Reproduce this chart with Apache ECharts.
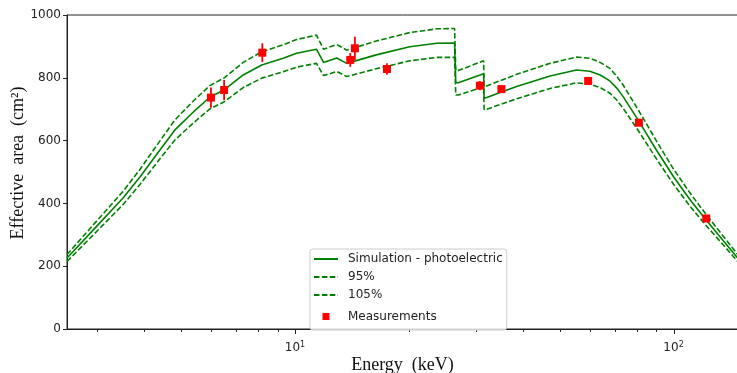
<!DOCTYPE html>
<html>
<head>
<meta charset="utf-8">
<script src="https://cdn.jsdelivr.net/npm/echarts@6/dist/echarts.min.js"></script>
<style>
  html, body { margin: 0; padding: 0; background: #fff; }
  #chart { width: 737px; height: 373px; }
</style>
</head>
<body>
<div id="chart"></div>
<script>
// Photon energy grid (keV) for the simulated curves
const energy = [2.5, 2.93, 3.52, 3.9, 4.4, 4.82, 5.4, 5.96, 6.49, 7.3, 8.17, 9.31, 10.1, 11.4, 11.5, 11.9, 12.9, 13.7, 16.4, 20.1, 23.7, 26.4, 26.6, 27.0, 31.5, 31.6, 32.1, 38.5, 47.2, 55.4, 60.1, 64.0, 67.9, 70.7, 73.6, 80.6, 90.1, 100, 110.7, 121, 135, 148];
// Simulated effective area, photoelectric (cm²)
const simulation = [226, 315, 418, 485, 570, 634, 692, 738, 761, 809, 841, 862, 878, 891, 894, 849, 863, 846, 873, 899, 910, 911, 784, 784, 813, 735, 737, 772, 806, 825, 821, 809, 790, 768, 740, 666, 570, 485, 411, 352, 283, 225];
// Lower band (95 %)
const band95 = [215, 299, 397, 461, 542, 602, 657, 701, 723, 769, 799, 819, 834, 846, 849, 807, 820, 804, 829, 854, 865, 865, 745, 745, 772, 698, 700, 733, 766, 784, 780, 769, 751, 730, 703, 633, 542, 461, 390, 334, 269, 214];
// Upper band (105 %)
const band105 = [237, 331, 439, 509, 599, 666, 727, 775, 799, 849, 883, 905, 922, 936, 939, 891, 906, 888, 917, 944, 956, 957, 823, 823, 854, 772, 774, 811, 846, 866, 862, 849, 830, 806, 777, 699, 599, 509, 432, 370, 297, 236];

// Measured points: energy (keV), effective area (cm²), 1-sigma error
const measEnergy = [6.0, 6.5, 8.2, 14.0, 14.4, 17.5, 30.8, 35.1, 59.5, 81, 122];
const measArea = [737, 761, 880, 857, 894, 828, 775, 764, 790, 657, 352];
const measError = [32, 32, 30, 22, 37, 18, 15, 12, 12, 9, 9];

// Axis ticks
const yTicks = [0, 200, 400, 600, 800, 1000];
const xMajorTicks = [10, 100];
const xMinorTicks = [3, 4, 5, 6, 7, 8, 9, 20, 30, 40, 50, 60, 70, 80, 90];

const GREEN = '#008000';
const RED = '#ff0000';
const AXIS = '#222';

const zip = (xs, ys) => xs.map((x, i) => [x, ys[i]]);

const chart = echarts.init(document.getElementById('chart'), null, { renderer: 'canvas' });

// short tick marks below the log axis, placed through the axis scale
const tickSeries = (ticks, len) => ({
  type: 'custom',
  silent: true,
  clip: false,
  z: 1,
  data: ticks.map(t => [t, 0]),
  renderItem: (params, api) => {
    const p = api.coord([api.value(0), 0]);
    const x = Math.round(p[0]) + 0.5;
    return {
      type: 'line',
      shape: { x1: x, y1: p[1], x2: x, y2: p[1] + len },
      style: { stroke: AXIS, lineWidth: 1 }
    };
  }
});

const lineLegend = name => ({ name, itemStyle: { opacity: 0 } });

const option = {
  animation: false,
  backgroundColor: '#fff',
  grid: {
    left: 67, right: -1, top: 15, bottom: 44,
    containLabel: false,
    outerBoundsMode: 'none',
    show: true, borderColor: AXIS, borderWidth: 1, backgroundColor: 'transparent'
  },
  legend: {
    orient: 'vertical',
    left: 310, top: 249,
    padding: [3, 4, 3, 3],
    itemWidth: 24, itemHeight: 14, itemGap: 4,
    backgroundColor: 'rgba(255,255,255,0.8)',
    borderColor: '#cccccc', borderWidth: 1, borderRadius: 3,
    textStyle: { fontFamily: 'DejaVu Sans', fontSize: 12, color: '#222', padding: [0, 0, 0, 5], lineHeight: 14 },
    data: [
      lineLegend('Simulation - photoelectric'),
      lineLegend('95%'),
      lineLegend('105%'),
      { name: 'Measurements', icon: 'path://M0,0h10v10h-10z', itemStyle: { color: RED, borderColor: '#fff', borderWidth: 7 } }
    ]
  },
  xAxis: {
    type: 'log',
    logBase: 10,
    min: 2.5, max: 148,
    name: 'Energy  (keV)',
    nameLocation: 'middle',
    nameGap: 27,
    nameMoveOverlap: false,
    nameTextStyle: { fontFamily: 'Liberation Serif', fontSize: 18, color: '#111' },
    axisLine: { show: true, lineStyle: { color: AXIS, width: 1 } },
    axisTick: { show: false },
    splitLine: { show: false },
    minorTick: { show: false },
    axisLabel: {
      showMinLabel: false, showMaxLabel: false,
      margin: 12,
      color: AXIS,
      formatter: v => {
        const e = Math.log10(v);
        if (Math.abs(e - Math.round(e)) > 1e-6) return '';
        return '{b|10}{s|' + Math.round(e) + '}';
      },
      rich: {
        b: { fontFamily: 'DejaVu Sans', fontSize: 12, color: AXIS },
        s: { fontFamily: 'DejaVu Sans', fontSize: 8, color: AXIS, verticalAlign: 'top', padding: [0, 0, 6, 0] }
      }
    }
  },
  yAxis: {
    type: 'value',
    min: yTicks[0], max: yTicks[yTicks.length - 1], interval: yTicks[1] - yTicks[0],
    name: 'Effective  area  (cm²)',
    nameLocation: 'middle',
    nameGap: 40,
    nameMoveOverlap: false,
    nameTextStyle: { fontFamily: 'Liberation Serif', fontSize: 18, color: '#111', padding: [0, 0, 0, 18] },
    axisLine: { show: true, lineStyle: { color: AXIS, width: 1 } },
    axisTick: { show: true, length: 4, lineStyle: { color: AXIS } },
    splitLine: { show: false },
    axisLabel: { fontFamily: 'DejaVu Sans', fontSize: 12, color: AXIS, margin: 6, formatter: v => String(v) }
  },
  series: [
    {
      name: 'Simulation - photoelectric', type: 'line', symbol: 'none', z: 3,
      data: zip(energy, simulation),
      lineStyle: { color: GREEN, width: 1.6 },
      itemStyle: { color: GREEN }
    },
    {
      name: '95%', type: 'line', symbol: 'none', z: 3,
      data: zip(energy, band95),
      lineStyle: { color: GREEN, width: 1.6, type: [5.5, 2.4] },
      itemStyle: { color: GREEN }
    },
    {
      name: '105%', type: 'line', symbol: 'none', z: 3,
      data: zip(energy, band105),
      lineStyle: { color: GREEN, width: 1.6, type: [5.5, 2.4] },
      itemStyle: { color: GREEN }
    },
    {
      name: 'Measurements', type: 'scatter', symbol: 'rect', symbolSize: 8, z: 5,
      data: zip(measEnergy, measArea),
      itemStyle: { color: RED, opacity: 1 }
    },
    {
      // vertical error bars on the measurements
      type: 'custom', silent: true, z: 4,
      data: measEnergy.map((e, i) => [e, measArea[i] - measError[i], measArea[i] + measError[i]]),
      renderItem: (params, api) => {
        const lo = api.coord([api.value(0), api.value(1)]);
        const hi = api.coord([api.value(0), api.value(2)]);
        return {
          type: 'line',
          shape: { x1: lo[0], y1: lo[1], x2: hi[0], y2: hi[1] },
          style: { stroke: RED, lineWidth: 1.8 }
        };
      }
    },
    tickSeries(xMajorTicks, 5),
    tickSeries(xMinorTicks, 3)
  ]
};

chart.setOption(option);
</script>
</body>
</html>
